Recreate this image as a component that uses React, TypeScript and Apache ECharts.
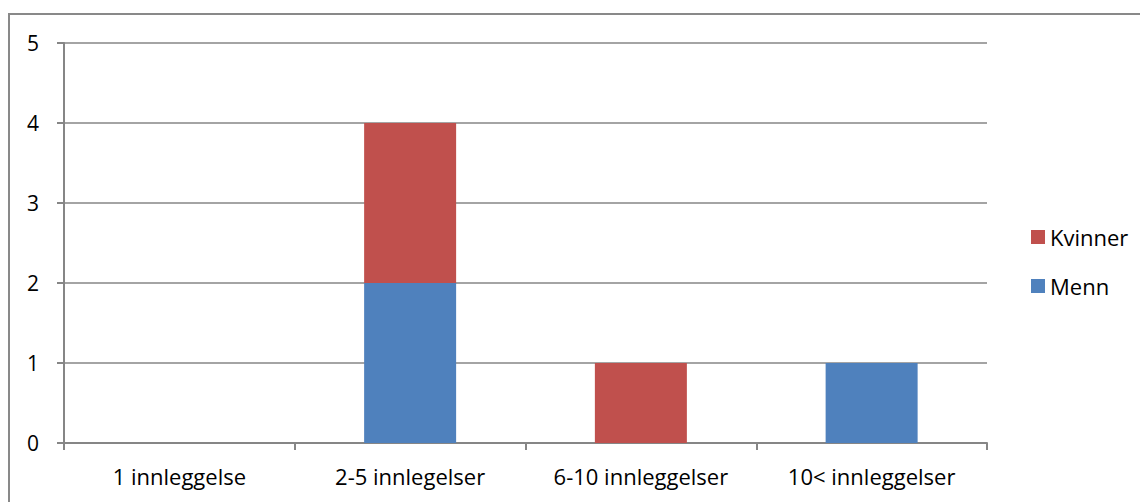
import React, { useEffect, useRef } from "react";
import * as echarts from "echarts";

const categories = ["1 innleggelse", "2-5 innlegelser", "6-10 innleggelser", "10< innleggelser"];
const menn = [0, 2, 0, 1];
const kvinner = [0, 2, 1, 0];
const yTicks = { min: 0, max: 5, interval: 1 };

const FONT = "'Open Sans', 'Noto Sans', sans-serif";
const GRAY = "#868686";

export default function App() {
  const ref = useRef<HTMLDivElement>(null);
  useEffect(() => {
    const chart = echarts.init(ref.current!, null, { renderer: "svg" });
    chart.setOption({
      animation: false,
      textStyle: { fontFamily: FONT },
      graphic: [
        {
          type: "rect",
          shape: { x: 1, y: 6, width: 1300, height: 700 },
          style: { fill: "none", stroke: "#898989", lineWidth: 2 },
          silent: true,
        },
      ],
      grid: { left: 56, right: 161, top: 35, bottom: 59, containLabel: false },
      legend: {
        orient: "vertical",
        left: 1018,
        top: 213,
        padding: 5,
        itemWidth: 14,
        itemHeight: 14,
        itemGap: 27,
        data: ["Kvinner", "Menn"],
        textStyle: { fontFamily: FONT, fontSize: 22, color: "#000", lineHeight: 22 },
        icon: "rect",
      },
      xAxis: {
        type: "category",
        data: categories,
        axisLine: { lineStyle: { color: GRAY, width: 2 } },
        axisTick: { show: true, length: 7, lineStyle: { color: GRAY, width: 2 } },
        axisLabel: { fontFamily: FONT, fontSize: 22, color: "#000", margin: 22 },
      },
      yAxis: {
        type: "value",
        min: yTicks.min,
        max: yTicks.max,
        interval: yTicks.interval,
        axisLine: { show: true, lineStyle: { color: GRAY, width: 2 } },
        axisTick: { show: true, length: 7, lineStyle: { color: GRAY, width: 2 } },
        splitLine: { lineStyle: { color: GRAY, width: 1.5 } },
        axisLabel: { fontFamily: FONT, fontSize: 21, color: "#000", margin: 25 },
      },
      series: [
        {
          name: "Menn",
          type: "bar",
          stack: "total",
          data: menn,
          barWidth: 92,
          itemStyle: { color: "#4F81BD" },
        },
        {
          name: "Kvinner",
          type: "bar",
          stack: "total",
          data: kvinner,
          barWidth: 92,
          itemStyle: { color: "#C0504D" },
        },
      ],
    });
    return () => chart.dispose();
  }, []);
  return <div ref={ref} style={{ width: 1140, height: 494 }} />;
}
